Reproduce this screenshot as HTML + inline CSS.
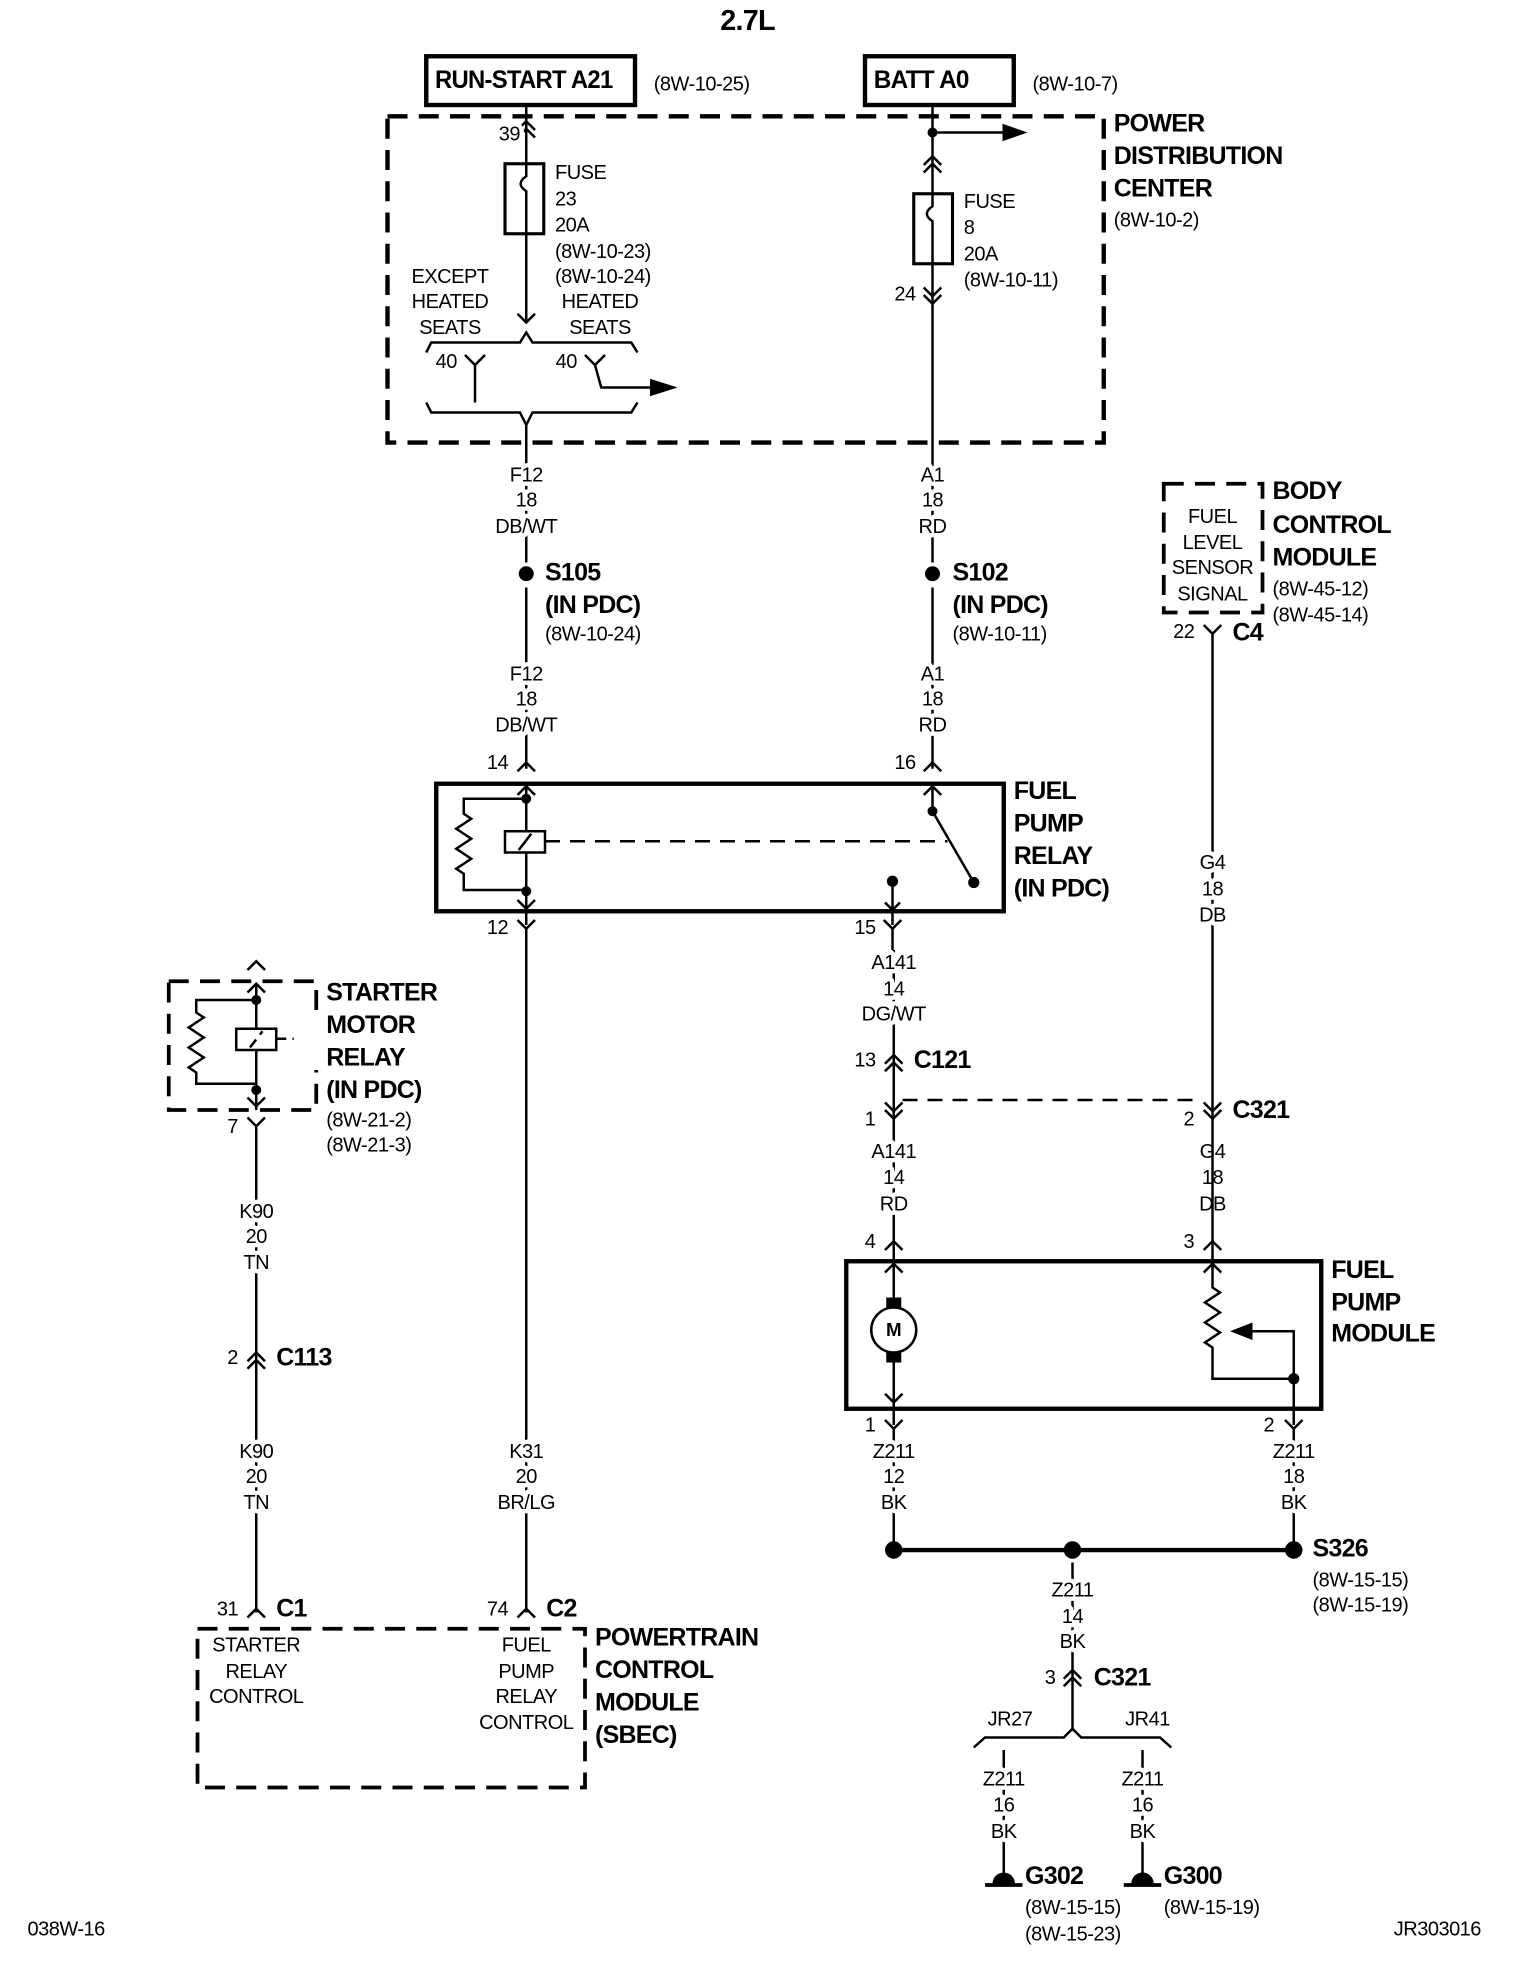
<!DOCTYPE html>
<html><head><meta charset="utf-8"><style>
html,body{margin:0;padding:0;background:#fff}
svg{display:block}
text{font-family:"Liberation Sans Narrow","Liberation Sans",sans-serif;fill:#000;dominant-baseline:middle}
.s{font-size:16px;letter-spacing:-0.4px;paint-order:stroke;stroke:#fff;stroke-width:7px;stroke-linejoin:round}
.b{font-size:20px;font-weight:bold;letter-spacing:-0.6px}
.m{text-anchor:middle}
.w{stroke:#000;stroke-width:2;fill:none}
.t{stroke:#000;stroke-width:3.5;fill:none}
.d{stroke:#000;stroke-width:3.5;fill:none;stroke-dasharray:16 9}
</style></head><body>
<svg width="1520" height="1968" viewBox="0 0 1216 1574.4">
<rect width="1216" height="1575" fill="#fff"/>
<text x="598" y="18" class="b m" style="font-size:23px">2.7L</text>

<!-- top boxes -->
<rect x="341" y="45" width="167" height="39" class="t"/>
<text x="348" y="65" class="b" textLength="142" lengthAdjust="spacingAndGlyphs">RUN-START A21</text>
<text x="523" y="68" class="s">(8W-10-25)</text>
<rect x="692" y="45" width="119" height="39" class="t"/>
<text x="699" y="65" class="b" textLength="76" lengthAdjust="spacingAndGlyphs">BATT A0</text>
<text x="826" y="68" class="s">(8W-10-7)</text>

<!-- PDC -->
<rect x="310" y="93" width="573" height="261" class="d"/>
<text x="891" y="100" class="b">POWER</text>
<text x="891" y="126" class="b">DISTRIBUTION</text>
<text x="891" y="152" class="b">CENTER</text>
<text x="891" y="177" class="s">(8W-10-2)</text>

<!-- left wire -->
<path class="w" d="M421 84V258M414 104l7-7 7 7M414 110l7-7 7 7M414 251l7 7 7-7"/>
<rect x="404" y="131" width="31" height="56" fill="#fff" stroke="#000" stroke-width="2.5"/>
<path class="w" d="M421 131v10c-6 4-6 8 0 12v34"/>
<text x="399" y="108" class="s">39</text>
<text x="444" y="139" class="s">FUSE</text>
<text x="444" y="160" class="s">23</text>
<text x="444" y="181" class="s">20A</text>
<text x="444" y="202" class="s">(8W-10-23)</text>
<text x="444" y="222" class="s">(8W-10-24)</text>
<text x="360" y="222" class="s m">EXCEPT</text>
<text x="360" y="242" class="s m">HEATED</text>
<text x="360" y="263" class="s m">SEATS</text>
<text x="480" y="242" class="s m">HEATED</text>
<text x="480" y="263" class="s m">SEATS</text>
<path class="w" d="M341 282l4-8h71l5-8 5 8h79l5 8"/>
<path class="w" d="M372 284l8 8 8-8M380 292V322M468 284l8 8 8-8M476 292l5 18h40"/>
<path d="M520 303l22 7-22 7z"/>
<text x="357" y="290" class="s m">40</text>
<text x="453" y="290" class="s m">40</text>
<path class="w" d="M341 322l4 8h71l5 10 5-10h79l5-8"/>
<path class="w" d="M421 340V450"/>
<!-- right wire -->
<path class="w" d="M746 84V450"/>
<circle cx="746" cy="106" r="4"/>
<path class="w" d="M746 106h58"/><path d="M802 99l20 7-20 7z"/>
<path class="w" d="M739 132l7-7 7 7M739 138l7-7 7 7M739 230l7 7 7-7M739 236l7 7 7-7"/>
<rect x="731" y="155" width="31" height="56" fill="#fff" stroke="#000" stroke-width="2.5"/>
<path class="w" d="M746 155v10c-6 4-6 8 0 12v34"/>
<text x="771" y="162" class="s">FUSE</text>
<text x="771" y="183" class="s">8</text>
<text x="771" y="204" class="s">20A</text>
<text x="771" y="225" class="s">(8W-10-11)</text>
<text x="724" y="236" class="s m">24</text>

<!-- wire labels -->
<text x="421" y="381" class="s m">F12</text><text x="421" y="401" class="s m">18</text><text x="421" y="422" class="s m">DB/WT</text>
<text x="746" y="381" class="s m">A1</text><text x="746" y="401" class="s m">18</text><text x="746" y="422" class="s m">RD</text>
<circle cx="421" cy="459" r="6"/><circle cx="746" cy="459" r="6"/>
<path class="w" d="M421 470V615M746 470V615"/>
<text x="436" y="459" class="b">S105</text><text x="436" y="485" class="b">(IN PDC)</text><text x="436" y="508" class="s">(8W-10-24)</text>
<text x="762" y="459" class="b">S102</text><text x="762" y="485" class="b">(IN PDC)</text><text x="762" y="508" class="s">(8W-10-11)</text>
<text x="421" y="540" class="s m">F12</text><text x="421" y="560" class="s m">18</text><text x="421" y="581" class="s m">DB/WT</text>
<text x="746" y="540" class="s m">A1</text><text x="746" y="560" class="s m">18</text><text x="746" y="581" class="s m">RD</text>
<path class="w" d="M414 617l7-7 7 7M739 617l7-7 7 7"/>
<text x="398" y="611" class="s m">14</text><text x="724" y="611" class="s m">16</text>

<!-- fuel pump relay -->
<rect x="349" y="627" width="454" height="102" class="t"/>
<text x="811" y="634" class="b">FUEL</text><text x="811" y="660" class="b">PUMP</text><text x="811" y="686" class="b">RELAY</text><text x="811" y="712" class="b">(IN PDC)</text>
<path class="w" d="M421 627V740M414 636l7-7 7 7M414 720l7 7 7-7"/>
<circle cx="421" cy="639" r="4"/><circle cx="421" cy="713" r="4"/>
<path class="w" d="M421 639H371v12l6 4-12 8 12 8-12 8 12 8-12 8 6 4v13h50"/>
<rect x="404" y="665" width="32" height="17" fill="#fff" stroke="#000" stroke-width="2"/>
<path class="w" d="M415 680l10-13"/>
<path class="w" d="M436 673H758" stroke-dasharray="12 8"/>
<path class="w" d="M746 627V649M746 649l33 57M739 636l7-7 7 7"/>
<circle cx="746" cy="649" r="4"/><circle cx="779" cy="706" r="4.5"/>
<path class="w" d="M714 705V740M708 722l6 6 6-6"/>
<circle cx="714" cy="705" r="4.5"/>
<path class="w" d="M414 736l7 7 7-7M707 736l7 7 7-7M421 743V1290M714 743V760"/>
<text x="398" y="743" class="s m">12</text><text x="692" y="743" class="s m">15</text>

<!-- A141 path -->
<path class="w" d="M715 760V1008"/>
<text x="715" y="771" class="s m">A141</text><text x="715" y="792" class="s m">14</text><text x="715" y="812" class="s m">DG/WT</text>
<path class="w" d="M708 851l7-7 7 7M708 857l7-7 7 7M708 882l7 7 7-7M708 888l7 7 7-7"/>
<text x="692" y="849" class="s m">13</text><text x="731" y="849" class="b">C121</text>
<path class="w" d="M722 880H962" stroke-dasharray="12 8"/>
<text x="696" y="896" class="s m">1</text><text x="951" y="896" class="s m">2</text><text x="986" y="889" class="b">C321</text>
<path class="w" d="M963 882l7 7 7-7M963 888l7 7 7-7"/>
<text x="715" y="922" class="s m">A141</text><text x="715" y="943" class="s m">14</text><text x="715" y="964" class="s m">RD</text>
<text x="970" y="922" class="s m">G4</text><text x="970" y="943" class="s m">18</text><text x="970" y="964" class="s m">DB</text>
<path class="w" d="M708 1000l7-7 7 7M963 1000l7-7 7 7"/>
<text x="696" y="994" class="s m">4</text><text x="951" y="994" class="s m">3</text>

<!-- BCM -->
<rect x="931" y="387" width="79" height="103" class="d" style="stroke-width:3"/>
<text x="970" y="414" class="s m">FUEL</text><text x="970" y="435" class="s m">LEVEL</text><text x="970" y="455" class="s m">SENSOR</text><text x="970" y="476" class="s m">SIGNAL</text>
<text x="1018" y="394" class="b">BODY</text><text x="1018" y="421" class="b">CONTROL</text><text x="1018" y="447" class="b">MODULE</text>
<text x="1018" y="472" class="s">(8W-45-12)</text><text x="1018" y="493" class="s">(8W-45-14)</text>
<path class="w" d="M963 500l7 7 7-7M970 507V1008"/>
<text x="947" y="506" class="s m">22</text><text x="986" y="507" class="b">C4</text>
<text x="970" y="691" class="s m">G4</text><text x="970" y="712" class="s m">18</text><text x="970" y="733" class="s m">DB</text>

<!-- fuel pump module -->
<rect x="677" y="1009" width="380" height="118" class="t"/>
<text x="1065" y="1017" class="b">FUEL</text><text x="1065" y="1043" class="b">PUMP</text><text x="1065" y="1068" class="b">MODULE</text>
<path class="w" d="M715 1009V1140M708 1018l7-7 7 7M708 1115l7 7 7-7"/>
<rect x="709" y="1038" width="12" height="8"/><rect x="709" y="1082" width="12" height="8"/>
<circle cx="715" cy="1064" r="18" fill="#fff" stroke="#000" stroke-width="2"/>
<text x="715" y="1065" class="m" style="font-size:15px;font-weight:bold">M</text>
<path class="w" d="M970 1009V1030l6 4-12 8 12 8-12 8 12 8-12 8 6 4V1103H1035V1065H1000M963 1018l7-7 7 7M1035 1103V1140"/>
<path d="M1002 1058l-18 7 18 7z"/>
<circle cx="1035" cy="1103" r="4.5"/>
<path class="w" d="M708 1136l7 7 7-7M1028 1136l7 7 7-7"/>
<text x="696" y="1141" class="s m">1</text><text x="1015" y="1141" class="s m">2</text>
<path class="w" d="M715 1143V1240M1035 1143V1240"/>
<text x="715" y="1162" class="s m">Z211</text><text x="715" y="1182" class="s m">12</text><text x="715" y="1203" class="s m">BK</text>
<text x="1035" y="1162" class="s m">Z211</text><text x="1035" y="1182" class="s m">18</text><text x="1035" y="1203" class="s m">BK</text>
<path d="M715 1240H1035" stroke="#000" stroke-width="3.5"/>
<circle cx="715" cy="1240" r="7"/><circle cx="858" cy="1240" r="7"/><circle cx="1035" cy="1240" r="7"/>
<text x="1050" y="1240" class="b">S326</text><text x="1050" y="1265" class="s">(8W-15-15)</text><text x="1050" y="1285" class="s">(8W-15-19)</text>
<path class="w" d="M858 1250V1385"/>
<text x="858" y="1273" class="s m">Z211</text><text x="858" y="1294" class="s m">14</text><text x="858" y="1314" class="s m">BK</text>
<path class="w" d="M851 1343l7-7 7 7M851 1349l7-7 7 7"/>
<text x="840" y="1343" class="s m">3</text><text x="875" y="1343" class="b">C321</text>
<path class="w" d="M779 1398l9-8h63l7-7 7 7h63l9 8"/>
<text x="808" y="1376" class="s m">JR27</text><text x="918" y="1376" class="s m">JR41</text>
<path class="w" d="M803 1400V1500M914 1400V1500"/>
<text x="803" y="1424" class="s m">Z211</text><text x="803" y="1445" class="s m">16</text><text x="803" y="1466" class="s m">BK</text>
<text x="914" y="1424" class="s m">Z211</text><text x="914" y="1445" class="s m">16</text><text x="914" y="1466" class="s m">BK</text>
<path d="M794 1507a9 9 0 0 1 18 0z M905 1507a9 9 0 0 1 18 0z"/>
<path d="M788 1508h30M899 1508h30" stroke="#000" stroke-width="3"/>
<text x="820" y="1502" class="b">G302</text><text x="931" y="1502" class="b">G300</text>
<text x="820" y="1527" class="s">(8W-15-15)</text><text x="820" y="1548" class="s">(8W-15-23)</text>
<text x="931" y="1527" class="s">(8W-15-19)</text>

<!-- starter motor relay -->
<rect x="135" y="785" width="118" height="103" class="d" style="stroke-width:3"/>
<rect x="222" y="808" width="38" height="48" fill="#fff"/>
<text x="261" y="795" class="b">STARTER</text><text x="261" y="821" class="b">MOTOR</text><text x="261" y="847" class="b">RELAY</text><text x="261" y="873" class="b">(IN PDC)</text>
<text x="261" y="897" class="s">(8W-21-2)</text><text x="261" y="917" class="s">(8W-21-3)</text>
<path class="w" d="M198 776l7-7 7 7M198 794l7-7 7 7M205 787V888M198 878l7 7 7-7"/>
<circle cx="205" cy="800" r="4"/><circle cx="205" cy="872" r="4"/>
<path class="w" d="M205 800H157v10l6 4-12 8 12 8-12 8 12 8-12 8 6 4v9h48"/>
<rect x="189" y="823" width="32" height="17" fill="#fff" stroke="#000" stroke-width="2"/>
<path class="w" d="M200 838l10-13M221 831h14" stroke-dasharray="8 5"/>
<path class="w" d="M198 894l7 7 7-7M205 901V1290"/>
<text x="186" y="902" class="s m">7</text>
<text x="205" y="970" class="s m">K90</text><text x="205" y="990" class="s m">20</text><text x="205" y="1011" class="s m">TN</text>
<path class="w" d="M198 1089l7-7 7 7M198 1095l7-7 7 7"/>
<text x="186" y="1087" class="s m">2</text><text x="221" y="1087" class="b">C113</text>
<text x="205" y="1162" class="s m">K90</text><text x="205" y="1182" class="s m">20</text><text x="205" y="1203" class="s m">TN</text>
<text x="421" y="1162" class="s m">K31</text><text x="421" y="1182" class="s m">20</text><text x="421" y="1203" class="s m">BR/LG</text>
<path class="w" d="M198 1294l7-7 7 7M414 1294l7-7 7 7"/>
<text x="182" y="1288" class="s m">31</text><text x="221" y="1288" class="b">C1</text>
<text x="398" y="1288" class="s m">74</text><text x="437" y="1288" class="b">C2</text>

<!-- PCM -->
<rect x="158" y="1303" width="310" height="127" class="d" style="stroke-width:3"/>
<text x="205" y="1317" class="s m">STARTER</text><text x="205" y="1338" class="s m">RELAY</text><text x="205" y="1358" class="s m">CONTROL</text>
<text x="421" y="1317" class="s m">FUEL</text><text x="421" y="1338" class="s m">PUMP</text><text x="421" y="1358" class="s m">RELAY</text><text x="421" y="1379" class="s m">CONTROL</text>
<text x="476" y="1311" class="b">POWERTRAIN</text><text x="476" y="1337" class="b">CONTROL</text><text x="476" y="1363" class="b">MODULE</text><text x="476" y="1389" class="b">(SBEC)</text>

<text x="22" y="1544" class="s">038W-16</text>
<text x="1115" y="1544" class="s">JR303016</text>
</svg>
</body></html>
